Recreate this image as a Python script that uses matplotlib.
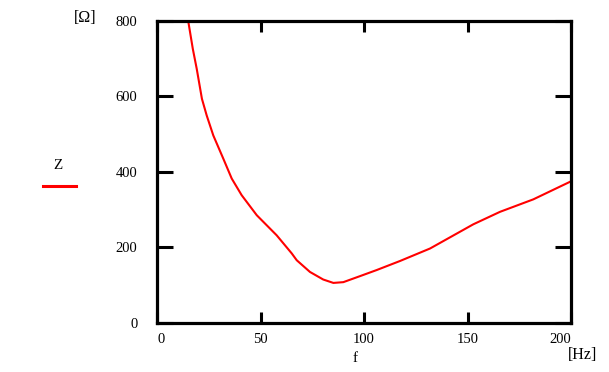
import matplotlib
matplotlib.use("Agg")
from matplotlib import pyplot as plt
from matplotlib.lines import Line2D

# impedance curve
f = [15.1, 17.3, 19.2, 21.7, 24.0, 27.2, 32.0, 36.1, 40.9, 48.2, 57.8, 65.1,
     67.5, 73.9, 80.3, 85.2, 90.0, 98.1, 106.1, 117.4, 131.9, 152.8, 165.7,
     181.8, 200.5]
z = [798, 725, 672, 593, 549, 496, 435, 382, 338, 285, 232, 184,
     166, 135, 115, 106, 108, 124, 140, 164, 197, 261, 294,
     327, 376]

x_ticks = [0, 50, 100, 150, 200]
y_ticks = [0, 200, 400, 600, 800]

plt.rcParams['font.family'] = ['Liberation Serif', 'DejaVu Serif']

W, H = 609, 372
fig = plt.figure(figsize=(W / 100, H / 100), dpi=100)
ax = fig.add_axes([157 / W, 1 - 323 / H, (571 - 157) / W, (323 - 20.5) / H])

ax.plot(f, z, color="red", linewidth=1.5)
ax.set_xlim(0, 200)
ax.set_ylim(0, 800)

for s in ax.spines.values():
    s.set_linewidth(2.3)

ax.set_xticks(x_ticks)
ax.set_yticks(y_ticks)
ax.tick_params(axis='x', direction='in', length=8, width=2.2, top=True,
               labelsize=10.5, pad=7)
ax.tick_params(axis='y', direction='in', length=11.5, width=2.2, right=True,
               labelsize=10.5, pad=14)
xl = ax.get_xticklabels()
xl[0].set_horizontalalignment('left')
xl[-1].set_horizontalalignment('right')

# unit labels and the legend entry, MathCad style
fig.text(85 / W, 1 - 18 / H, "[Ω]", fontsize=11.5, ha='center', va='center')
fig.text(583 / W, 1 - 355 / H, "[Hz]", fontsize=11.5, ha='center', va='center')
fig.text(355 / W, 1 - 358 / H, "f", fontsize=11, ha='center', va='center')
fig.text(58 / W, 1 - 165 / H, "Z", fontsize=11, ha='center', va='center')
fig.add_artist(Line2D([43 / W, 76 / W], [1 - 186 / H, 1 - 186 / H],
                      color="red", linewidth=2.2, transform=fig.transFigure))

fig.savefig("out.png", dpi=100)
